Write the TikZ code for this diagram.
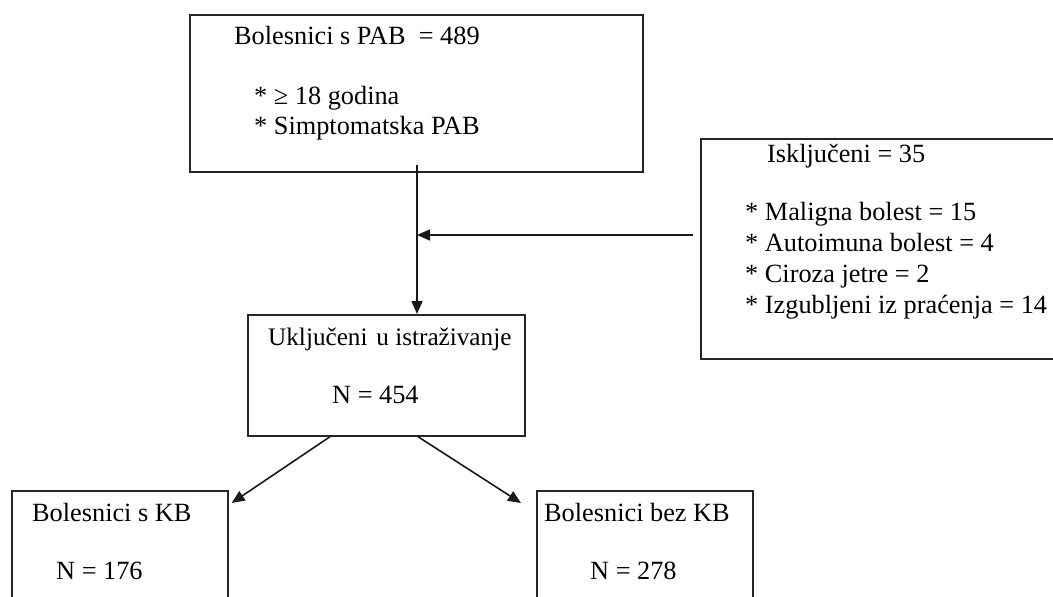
\documentclass[tikz,border=0pt]{standalone}
\usepackage{fontspec}
\setmainfont{Liberation Serif}
\usetikzlibrary{arrows.meta}
\tikzset{
  boxst/.style={draw=black!85, line width=1.7pt, inner sep=0pt, anchor=north west},
  txt/.style={anchor=base west, inner sep=0pt, font=\fontsize{26.3}{30}\selectfont, text=black},
  arr/.style={-{Triangle[length=13pt,width=11pt]}, line width=1.6pt, draw=black!90},
  ln/.style={line width=1.6pt, draw=black!90}
}
\begin{document}
\begin{tikzpicture}[x=1pt,y=-1pt]
\useasboundingbox (0,0) rectangle (1053,597);
\clip (0,0) rectangle (1053,597);
% boxes
\node[boxst, minimum width=453pt, minimum height=157pt] (top) at (189,14) {};
\node[boxst, minimum width=400pt, minimum height=220pt] (excl) at (700,138) {};
\node[boxst, minimum width=277pt, minimum height=121pt] (mid) at (247,314) {};
\node[boxst, minimum width=216pt, minimum height=130pt] (kb) at (11,490) {};
\node[boxst, minimum width=216pt, minimum height=130pt] (bez) at (536,490) {};
% texts
\node[txt] (t1) at (234,44) {Bolesnici s PAB\ \ = 489};
\node[txt] (t2) at (254,104) {* ≥ 18 godina};
\node[txt] (t3) at (254,134) {* Simptomatska PAB};
\node[txt] (e1) at (767,162) {Isključeni = 35};
\node[txt] (e2) at (745,220) {* Maligna bolest = 15};
\node[txt] (e3) at (745,251) {* Autoimuna bolest = 4};
\node[txt] (e4) at (745,282) {* Ciroza jetre = 2};
\node[txt] (e5) at (745,313) {* Izgubljeni iz praćenja = 14};
\node[txt, font=\fontsize{25.2}{30}\selectfont] (m1) at (268,345) {Uključeni\hspace{0.35em}u istraživanje};
\node[txt] (m2) at (332,403) {N = 454};
\node[txt] (k1) at (32,521) {Bolesnici s KB};
\node[txt] (k2) at (56,579) {N = 176};
\node[txt] (b1) at (544,521) {Bolesnici bez KB};
\node[txt] (b2) at (590,579) {N = 278};
% connectors
\coordinate (v) at (417,0);
\coordinate (j) at (417,235);
\draw[arr] ([yshift=8pt]top.south -| v) -- (mid.north -| v);
\draw[arr] ([xshift=-7pt]excl.west |- j) -- (j);
\draw[arr] ([xshift=83pt]mid.south west) -- ([xshift=3pt,yshift=-13pt]kb.north east);
\draw[arr] ([xshift=171pt]mid.south west) -- ([xshift=-15pt,yshift=-13pt]bez.north west);
\end{tikzpicture}
\end{document}
